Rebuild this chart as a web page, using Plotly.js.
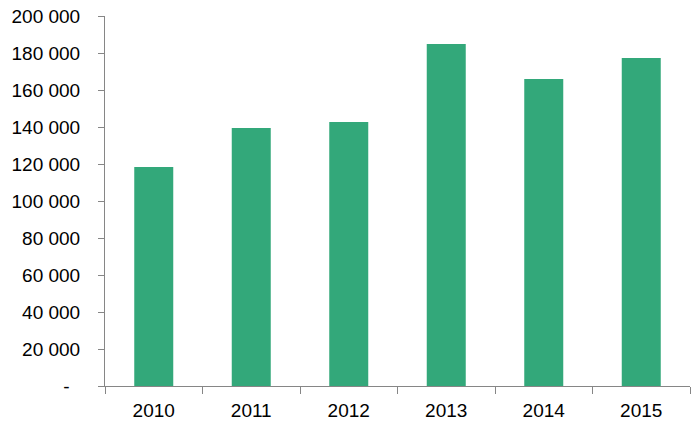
<!DOCTYPE html>
<html>
<head>
<meta charset="utf-8">
<script src="https://cdn.plot.ly/plotly-3.0.1.min.js"></script>
<style>html,body{margin:0;padding:0;background:#fff;}#chart{width:699px;height:429px;}</style>
</head>
<body>
<div id="chart"></div>
<script>
const years = ["2010", "2011", "2012", "2013", "2014", "2015"];
const values = [118400, 139500, 142700, 184900, 165900, 177300];
const yTickVals = [0, 20000, 40000, 60000, 80000, 100000, 120000, 140000, 160000, 180000, 200000];
const yTickText = ["-\u00a0\u00a0", "20 000", "40 000", "60 000", "80 000", "100 000", "120 000", "140 000", "160 000", "180 000", "200 000"];

const trace = {
  type: "bar",
  x: years,
  y: values,
  width: 0.4,
  marker: {color: "#33A87A"},
  hoverinfo: "x+y"
};

const layout = {
  width: 699,
  height: 429,
  margin: {l: 105, r: 9, t: 16, b: 43},
  paper_bgcolor: "#ffffff",
  plot_bgcolor: "#ffffff",
  font: {family: "Liberation Sans, Arial, sans-serif", size: 19, color: "#000000"},
  showlegend: false,
  xaxis: {
    type: "category",
    showline: true,
    linecolor: "#868686",
    linewidth: 1,
    ticks: "outside",
    tickson: "boundaries",
    ticklen: 7,
    tickcolor: "#868686",
    showgrid: false,
    zeroline: false,
    ticklabelstandoff: 7,
    tickfont: {size: 19}
  },
  yaxis: {
    range: [0, 200000],
    showline: true,
    linecolor: "#868686",
    linewidth: 1,
    ticks: "outside",
    ticklen: 6,
    tickcolor: "#868686",
    showgrid: false,
    zeroline: false,
    tickmode: "array",
    tickvals: yTickVals,
    ticktext: yTickText,
    ticklabelstandoff: 14,
    tickfont: {size: 19}
  }
};

Plotly.newPlot("chart", [trace], layout, {staticPlot: true, displayModeBar: false});
</script>
</body>
</html>
